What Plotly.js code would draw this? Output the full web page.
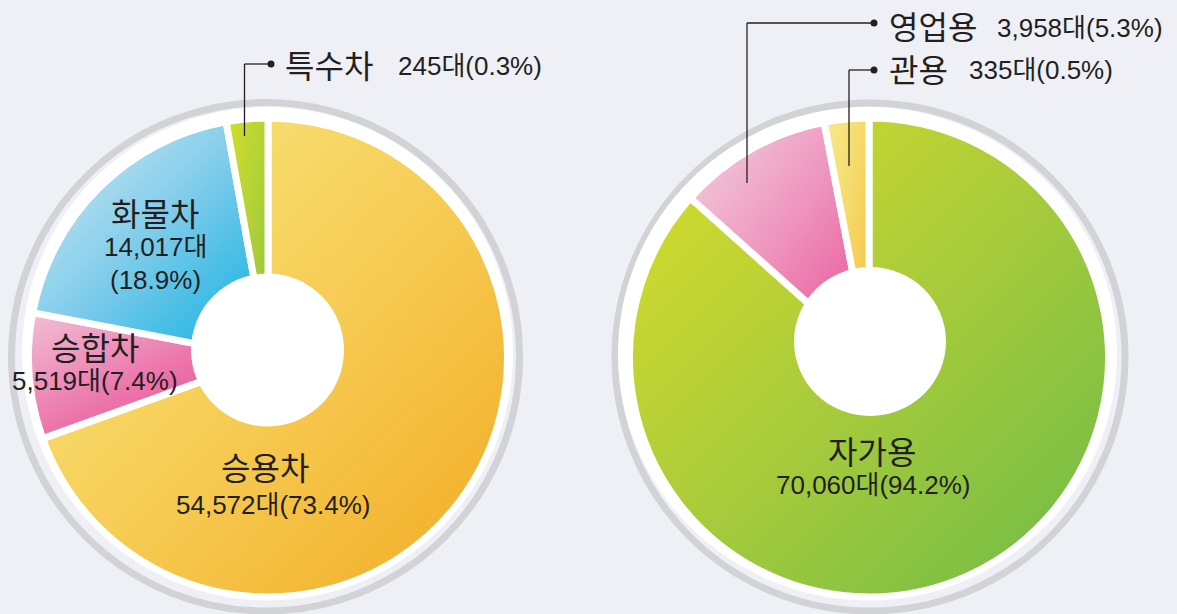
<!DOCTYPE html>
<html>
<head>
<meta charset="utf-8">
<script src="https://cdn.plot.ly/plotly-3.0.1.min.js"></script>
<style>
  html, body { margin: 0; padding: 0; background: #eff0f5; }
  #chart { width: 1177px; height: 614px; }
</style>
</head>
<body>
<div id="chart"></div>
<script>
// ---- Data: 차종별 (left) ----
const typeLabels   = ['승용차', '승합차', '화물차', '특수차'];
const typeCounts   = [54572, 5519, 14017, 245];
const typePercents = [73.4, 7.4, 18.9, 0.3];
// slice sizes as drawn in the picture (angles, %)
const typeDrawnShare = [69.5, 8.5, 19.2, 2.8];

// ---- Data: 용도별 (right) ----
const useLabels   = ['자가용', '영업용', '관용'];
const useCounts   = [70060, 3958, 335];
const usePercents = [94.2, 5.3, 0.5];
const useDrawnShare = [86.6, 10.4, 3.0];

const typeColors = ['#f5c94b', '#ec6ea6', '#6cc7ea', '#b3d236'];
const useColors  = ['#a8cb3b', '#ec8ab6', '#f5d75f'];
const typeGrad = [
  ['#f8ea86', '#f6cd55', '#f2aa22'],
  ['#f1c0d6', '#ec76ab', '#e83d8a'],
  ['#ddeef5', '#7ccbea', '#06aee2'],
  ['#d4dd2b', '#b3d236', '#8ac441']
];
const useGrad = [
  ['#dcdd2a', '#a8cb3b', '#6cbb46'],
  ['#f2d4e1', '#ee93bc', '#e84b95'],
  ['#f7ec8e', '#f5d867', '#f3bf3c']
];

const W = 1177, H = 614;
const X = v => v / W;
const Y = v => 1 - v / H;
const fmt = n => n.toLocaleString('en-US');
const ink = '#231f20';
const titleFont = { family: 'Noto Sans CJK KR, Noto Sans, sans-serif', size: 32, color: ink };
const numFont = { family: 'Liberation Sans, Arial, Noto Sans CJK KR, sans-serif', size: 26, color: ink };

function pieTrace(labels, shares, colors, cx, cy, r) {
  return {
    type: 'pie',
    labels: labels,
    values: shares,
    sort: false,
    direction: 'clockwise',
    rotation: 0,
    hole: 0,
    textinfo: 'none',
    hoverinfo: 'skip',
    showlegend: false,
    marker: { colors: colors, line: { color: '#ffffff', width: 7 } },
    domain: { x: [X(cx - r), X(cx + r)], y: [Y(cy + r), Y(cy - r)] }
  };
}

const data = [
  pieTrace(typeLabels, typeDrawnShare, typeColors, 268, 357.5, 239.5),
  pieTrace(useLabels, useDrawnShare, useColors, 869, 357.5, 239.5)
];

function ellipse(x0, y0, x1, y1, opts) {
  return Object.assign({ type: 'circle', xref: 'paper', yref: 'paper',
    x0: X(x0), x1: X(x1), y0: Y(y1), y1: Y(y0) }, opts);
}
function seg(x0, y0, x1, y1) {
  return { type: 'line', xref: 'paper', yref: 'paper', layer: 'above',
    x0: X(x0), y0: Y(y0), x1: X(x1), y1: Y(y1), line: { color: ink, width: 1.3 } };
}
function dot(x, y) {
  return ellipse(x - 3.5, y - 3.5, x + 3.5, y + 3.5,
    { layer: 'above', fillcolor: ink, line: { width: 0 } });
}

const shapes = [
  // outer grey rings
  ellipse(11.5, 102.5, 519.5, 611, { layer: 'below', fillcolor: 'rgba(0,0,0,0)', line: { color: '#d2d3d6', width: 7 } }),
  ellipse(615, 103, 1125, 611, { layer: 'below', fillcolor: 'rgba(0,0,0,0)', line: { color: '#d2d3d6', width: 7 } }),
  // white discs behind pies
  ellipse(22, 107, 513, 599, { layer: 'below', fillcolor: '#ffffff', line: { width: 0 } }),
  ellipse(618, 107, 1117, 600, { layer: 'below', fillcolor: '#ffffff', line: { width: 0 } }),
  // centre holes
  ellipse(191, 273.5, 344, 426.5, { layer: 'above', fillcolor: '#ffffff', line: { width: 0 } }),
  ellipse(794, 267, 946, 416, { layer: 'above', fillcolor: '#ffffff', line: { width: 0 } }),
  // leader: 특수차
  seg(244.5, 136, 244.5, 64), seg(244.5, 64, 271, 64), dot(271, 64),
  // leader: 영업용
  seg(747, 183, 747, 23), seg(747, 23, 874, 23), dot(874, 23),
  // leader: 관용
  seg(849, 166, 849, 70), seg(849, 70, 874, 70), dot(874, 70)
];

function ann(text, x, y, font, xanchor) {
  return { text: text, x: X(x), y: Y(y), xref: 'paper', yref: 'paper',
    xanchor: xanchor || 'center', yanchor: 'middle', showarrow: false, font: font };
}
const countText = (c, p) => fmt(c) + '대(' + p.toFixed(1) + '%)';

const annotations = [
  // left pie
  ann(typeLabels[3], 283, 64, titleFont, 'left'),
  ann(countText(typeCounts[3], typePercents[3]), 396, 66, numFont, 'left'),
  ann(typeLabels[2], 154.5, 212, titleFont),
  ann(fmt(typeCounts[2]) + '대', 155.5, 247, numFont),
  ann('(' + typePercents[2].toFixed(1) + '%)', 155, 280, numFont),
  ann(typeLabels[1], 95, 346, titleFont),
  ann(countText(typeCounts[1], typePercents[1]), 94.5, 381, numFont),
  ann(typeLabels[0], 265, 466, titleFont),
  ann(countText(typeCounts[0], typePercents[0]), 273, 505, numFont),
  // right pie
  ann(useLabels[1], 887, 25, titleFont, 'left'),
  ann(countText(useCounts[1], usePercents[1]), 995, 28, numFont, 'left'),
  ann(useLabels[2], 887, 68, titleFont, 'left'),
  ann(countText(useCounts[2], usePercents[2]), 967, 70, numFont, 'left'),
  ann(useLabels[0], 871.5, 450, titleFont),
  ann(countText(useCounts[0], usePercents[0]), 872.5, 485, numFont)
];

const layout = {
  width: W, height: H, autosize: false,
  margin: { l: 0, r: 0, t: 0, b: 0, pad: 0 },
  paper_bgcolor: '#eff0f5', plot_bgcolor: '#eff0f5',
  showlegend: false,
  shapes: shapes,
  annotations: annotations
};

const gd = document.getElementById('chart');
Plotly.newPlot(gd, data, layout, { staticPlot: true, displayModeBar: false }).then(() => {
  const ns = 'http://www.w3.org/2000/svg';
  const svg = gd.querySelector('svg.main-svg');
  let defs = svg.querySelector('defs');
  if (!defs) { defs = document.createElementNS(ns, 'defs'); svg.insertBefore(defs, svg.firstChild); }
  const grads = [typeGrad, useGrad];
  gd.querySelectorAll('.pielayer .trace').forEach((tr, ti) => {
    tr.querySelectorAll('.slice').forEach((sl, si) => {
      const path = sl.querySelector('path.surface');
      const stops = grads[ti] && grads[ti][si];
      if (!path || !stops) return;
      const id = 'sliceGrad' + ti + '_' + si;
      const lg = document.createElementNS(ns, 'linearGradient');
      lg.setAttribute('id', id);
      lg.setAttribute('x1', '0'); lg.setAttribute('y1', '0');
      lg.setAttribute('x2', '1'); lg.setAttribute('y2', '1');
      stops.forEach((c, k) => {
        const st = document.createElementNS(ns, 'stop');
        st.setAttribute('offset', String(k / (stops.length - 1)));
        st.setAttribute('stop-color', c);
        lg.appendChild(st);
      });
      defs.appendChild(lg);
      path.style.fill = 'url(#' + id + ')';
    });
  });
});
</script>
</body>
</html>
